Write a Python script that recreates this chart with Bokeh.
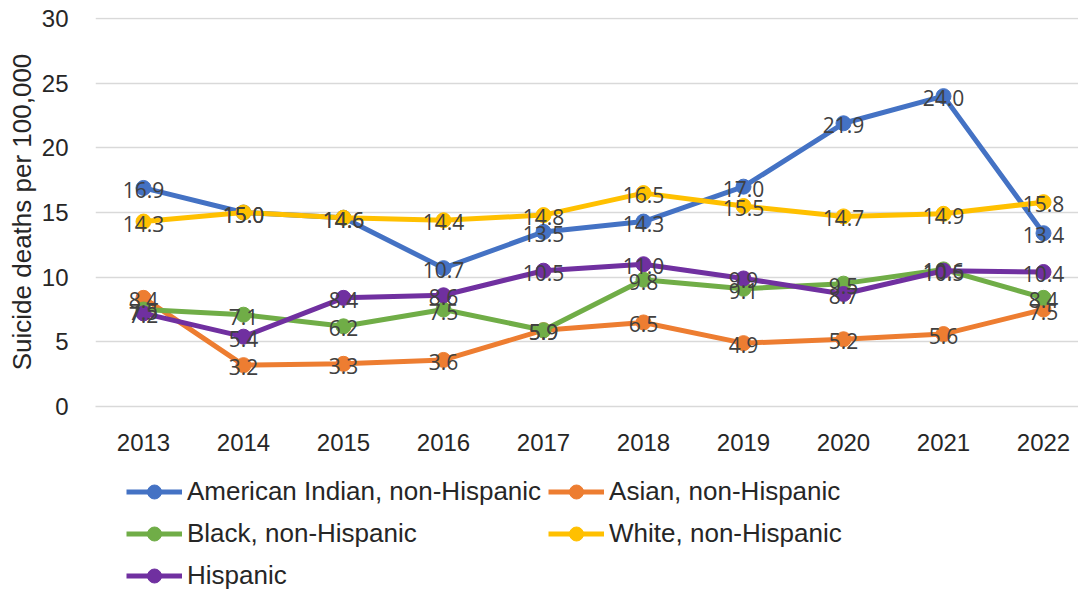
from bokeh.plotting import figure
from bokeh.layouts import column
from bokeh.models import ColumnDataSource, Range1d, FixedTicker, Legend, LegendItem
from bokeh.core.properties import value
from bokeh.embed import file_html
from bokeh.resources import INLINE

years = [2013, 2014, 2015, 2016, 2017, 2018, 2019, 2020, 2021, 2022]
american_indian = [16.9, 15.0, 14.6, 10.7, 13.5, 14.3, 17.0, 21.9, 24.0, 13.4]
asian = [8.4, 3.2, 3.3, 3.6, 5.9, 6.5, 4.9, 5.2, 5.6, 7.5]
black = [7.5, 7.1, 6.2, 7.5, 5.9, 9.8, 9.1, 9.5, 10.6, 8.4]
white = [14.3, 15.0, 14.6, 14.4, 14.8, 16.5, 15.5, 14.7, 14.9, 15.8]
hispanic = [7.2, 5.4, 8.4, 8.6, 10.5, 11.0, 9.9, 8.7, 10.5, 10.4]

series_names = ["American Indian, non-Hispanic", "Asian, non-Hispanic",
                "Black, non-Hispanic", "White, non-Hispanic", "Hispanic"]
series_values = [american_indian, asian, black, white, hispanic]
colors = ["#4472C4", "#ED7D31", "#70AD47", "#FFC000", "#7030A0"]
y_ticks = [0, 5, 10, 15, 20, 25, 30]

AXIS_FONT = "Liberation Sans"
LABEL_FONT = "Open Sans"
TEXT_COLOR = "#262626"

p = figure(width=1078, height=460, output_backend="svg", toolbar_location=None,
           x_range=Range1d(2012.52, 2022.35), y_range=Range1d(0, 30.08),
           min_border_left=95, min_border_right=0, min_border_top=17,
           min_border_bottom=54)
p.outline_line_color = None
p.background_fill_color = "white"
p.border_fill_color = "white"

p.xgrid.grid_line_color = None
p.ygrid.grid_line_color = "#D9D9D9"
p.ygrid.grid_line_width = 1.5
p.yaxis.ticker = FixedTicker(ticks=y_ticks)
p.xaxis.ticker = FixedTicker(ticks=years)

for ax in (p.xaxis, p.yaxis):
    ax.major_tick_line_color = None
    ax.minor_tick_line_color = None
    ax.major_label_text_font = AXIS_FONT
    ax.major_label_text_font_size = "24px"
    ax.major_label_text_color = TEXT_COLOR
p.yaxis.axis_line_color = None
p.xaxis.axis_line_color = "#D9D9D9"
p.xaxis.axis_line_width = 1.5
p.yaxis.major_label_standoff = 21
p.xaxis.major_label_standoff = 21
p.yaxis.axis_label = "Suicide deaths per 100,000"
p.yaxis.axis_label_text_font = AXIS_FONT
p.yaxis.axis_label_text_font_size = "26px"
p.yaxis.axis_label_text_font_style = "normal"
p.yaxis.axis_label_text_color = TEXT_COLOR
p.yaxis.axis_label_standoff = 2

sources = []
for name, vals, col in zip(series_names, series_values, colors):
    src = ColumnDataSource(dict(x=years, y=vals, lab=[f"{v:.1f}" for v in vals]))
    sources.append(src)
    p.line("x", "y", source=src, line_color=col, line_width=5, line_join="round")
    p.scatter("x", "y", source=src, size=15, fill_color=col, line_color=col)

for src in sources:
    p.text("x", "y", text="lab", source=src, text_align="center", text_baseline="middle",
           y_offset=2, text_font=value(LABEL_FONT), text_font_size="21px",
           text_color="#404040")

# legend panel below the chart
lg = figure(width=1078, height=132, output_backend="svg", toolbar_location=None,
            x_range=Range1d(0, 1), y_range=Range1d(0, 1),
            x_axis_type=None, y_axis_type=None,
            min_border_left=0, min_border_right=0, min_border_top=0, min_border_bottom=0)
lg.outline_line_color = None
lg.grid.visible = False
lg.background_fill_color = "white"
lg.border_fill_color = "white"

items = []
for name, src, col in zip(series_names, sources, colors):
    ln = lg.line("x", "y", source=src, line_color=col, line_width=5)
    sc = lg.scatter("x", "y", source=src, size=16, fill_color=col, line_color=col)
    items.append(LegendItem(label=name, renderers=[ln, sc]))

legend = Legend(items=items, location=(31, -1), orientation="horizontal", ncols=2,
                glyph_width=56, glyph_height=35, label_standoff=5, label_height=30,
                spacing=7, padding=0, margin=0,
                label_text_font=AXIS_FONT, label_text_font_size="26px",
                label_text_color=TEXT_COLOR, border_line_color=None,
                background_fill_alpha=0)
lg.add_layout(legend, "center")

layout = column(p, lg, spacing=0)
open("out.html", "w").write(file_html(layout, INLINE))
